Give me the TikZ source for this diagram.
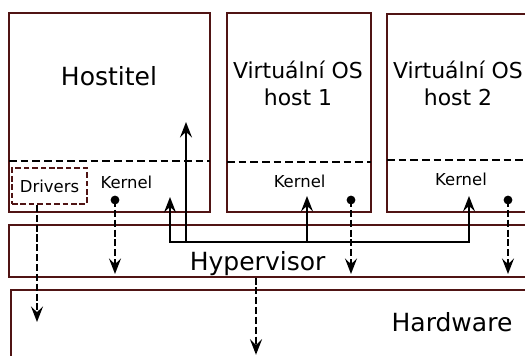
\documentclass[tikz,border=0pt]{standalone}
\usepackage{fontspec}
\setmainfont{DejaVu Sans}
\usetikzlibrary{arrows.meta}
\definecolor{frame}{RGB}{80,20,20}

\tikzset{
    layer/.style={draw=frame, line width=0.9pt, inner sep=0pt},
    split/.style={line width=1.4pt, dash pattern=on 5.5pt off 2.8pt},
    call/.style={->, line width=1.4pt},
    trap/.style={->, line width=1.4pt, dash pattern=on 5pt off 2pt},
    big/.style={font=\fontsize{17.8}{21}\selectfont},
    mid/.style={font=\fontsize{15.6}{19.2}\selectfont, align=center},
    small/.style={font=\fontsize{11.7}{14}\selectfont},
}

\begin{document}
\begin{tikzpicture}[>={Stealth[length=11pt,width=8.5pt,inset=4pt]}]
    \clip (0,0) rectangle (13.125,8.9);

    % layers
    \node[layer, minimum width=5.025cm, minimum height=4.975cm] (hostbox) at (2.7375,6.0875) {};
    \node[layer, minimum width=3.6cm, minimum height=4.975cm] (vm1box) at (7.475,6.0875) {};
    \node[layer, minimum width=3.6cm, minimum height=4.95cm] (vm2box) at (11.475,6.075) {};
    \node[layer, minimum width=13.175cm, minimum height=1.3cm] (hypbox) at (6.8125,2.625) {};
    \node[layer, minimum width=13.125cm, minimum height=1.85cm] (hwbox) at (6.8375,0.725) {};

    % user / kernel split
    \draw[split] (0.225,4.875) -- (5.25,4.875);
    \draw[split] (5.675,4.85) -- (9.275,4.85);
    \draw[split] (9.675,4.9) -- (13.3,4.9);

    % labels
    \node[big, anchor=base] (host) at (2.725,6.75) {Hostitel};
    \node[mid] (vm1) at (7.45,6.825) {Virtuální OS\\host 1};
    \node[mid] (vm2) at (11.45,6.825) {Virtuální OS\\host 2};
    \node[small, anchor=base] (hostker) at (3.16,4.19) {Kernel};
    \node[small, anchor=base] (vm1ker) at (7.49,4.2) {Kernel};
    \node[small, anchor=base] (vm2ker) at (11.525,4.25) {Kernel};
    \node[big, anchor=base] (hyp) at (6.44,2.13) {Hypervisor};
    \node[big, anchor=base] (hw) at (11.3,0.6) {Hardware};
    \node[small, draw=frame, line width=1.4pt, dash pattern=on 4pt off 2pt,
          minimum width=1.875cm, minimum height=0.9cm] (drv) at (1.2375,4.25) {Drivers};

    % hypervisor calls up into the guests
    \coordinate (bus) at (0,2.85);
    \coordinate (hostin) at (4.25,3.975);
    \coordinate (hostup) at (4.65,5.85);
    \coordinate (vm1in) at (7.675,4.0);
    \coordinate (vm2in) at (11.725,4.0);
    \draw[<->, line width=1.4pt] (hostin) -- (hostin |- bus) -- (vm2in |- bus) -- (vm2in);
    \draw[call] (hostup |- bus) -- (hostup);
    \draw[call] (vm1in |- bus) -- (vm1in);

    % kernels trapping down
    \foreach \k/\x in {hostk/2.875, vm1k/8.775, vm2k/12.7} {
        \coordinate (\k) at (\x,3.9);
        \fill (\k) circle (0.11);
        \draw[trap] (\k) -- (\x,2.05);
    }

    % down to the hardware
    \coordinate (drvout) at (0.925,0.85);
    \coordinate (hwin) at (6.4,0.03);
    \draw[trap] (drv.south -| drvout) -- (drvout);
    \draw[trap] (hypbox.south -| hwin) -- (hwin);
\end{tikzpicture}
\end{document}
